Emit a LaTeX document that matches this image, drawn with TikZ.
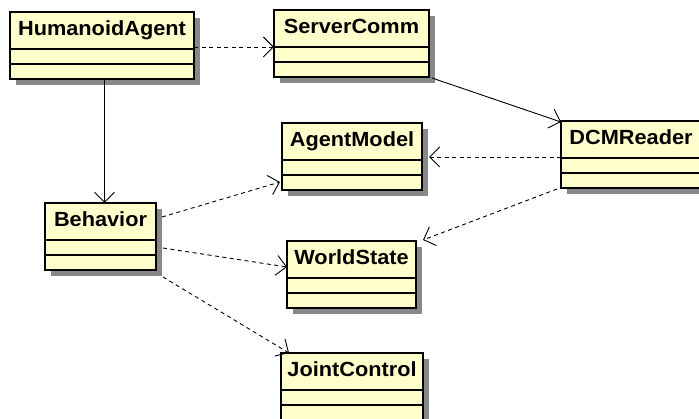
\documentclass[tikz,border=0pt]{standalone}
\usepackage{fontspec}
\newfontfamily\umlfont[FakeStretch=1.06]{Liberation Sans}
\usetikzlibrary{arrows.meta,shadows}

\definecolor{classfill}{RGB}{255,255,204}
\definecolor{shadowgray}{RGB}{136,136,136}

\tikzset{
  classbox/.style={draw=black, fill=classfill, line width=1.2pt,
    minimum height=67pt, inner sep=0pt, outer sep=0pt,
    general shadow={fill=shadowgray, shadow xshift=6pt, shadow yshift=-6pt}},
  classname/.style={inner sep=0pt, font=\umlfont\bfseries\fontsize{20.5}{24}\selectfont},
  classline/.style={draw=black, line width=1.2pt},
  opentip/.style={-{Straight Barb[length=10pt,width=20pt]}},
  assoc/.style={opentip, line width=0.9pt},
  dep/.style={opentip, line width=0.9pt, dash pattern=on 4pt off 3.5pt},
}

% name, left x, top y, width, label
\newcommand\umlclass[5]{%
  \node[classbox, minimum width=#4pt, anchor=north west] (#1) at (#2,#3) {};
  \node[classname, anchor=base] (#1-name) at ([yshift=-24pt]#1.north) {#5};
  \draw[classline] ([yshift=-37pt]#1.north west) -- ([yshift=-37pt]#1.north east);
  \draw[classline] ([yshift=-52pt]#1.north west) -- ([yshift=-52pt]#1.north east);
}

\begin{document}
\begin{tikzpicture}[x=1pt, y=-1pt]
  \path[use as bounding box, clip] (0,0) rectangle (699,419);
  \fill[white] (0,0) rectangle (699,419);

  \umlclass{ha}{10}{12}{184}{HumanoidAgent}
  \umlclass{sc}{274}{10}{155}{ServerComm}
  \umlclass{am}{282}{123}{140}{AgentModel}
  \umlclass{dcm}{561}{121}{140}{DCMReader}
  \umlclass{beh}{45}{203}{111}{Behavior}
  \umlclass{ws}{287}{241}{129}{WorldState}
  \umlclass{jc}{281}{353}{142}{JointControl}

  % associations
  \draw[assoc] ([xshift=2.5pt]ha.south) -- ([xshift=4pt]beh.north);
  \draw[assoc] ([xshift=3pt,yshift=-1pt]sc.south east) -- ([yshift=-1pt]dcm.north west);

  % dependencies
  \draw[dep] ([yshift=-35pt]ha.north east) -- ([yshift=-37pt]sc.north west);
  \draw[dep] ([yshift=-36pt]dcm.north west) -- ([xshift=7pt,yshift=-34pt]am.north east);
  \draw[dep] ([xshift=-4pt,yshift=-1pt]dcm.south west) -- ([xshift=7pt,yshift=1pt]ws.north east);
  \draw[dep] ([xshift=6pt,yshift=-14pt]beh.north east) -- ([xshift=-2pt,yshift=-59pt]am.north west);
  \draw[dep] ([xshift=7pt,yshift=-45pt]beh.north east) -- ([yshift=-26pt]ws.north west);
  \draw[dep] ([xshift=7pt,yshift=-74pt]beh.north east) -- ([xshift=8pt]jc.north west);
\end{tikzpicture}
\end{document}
